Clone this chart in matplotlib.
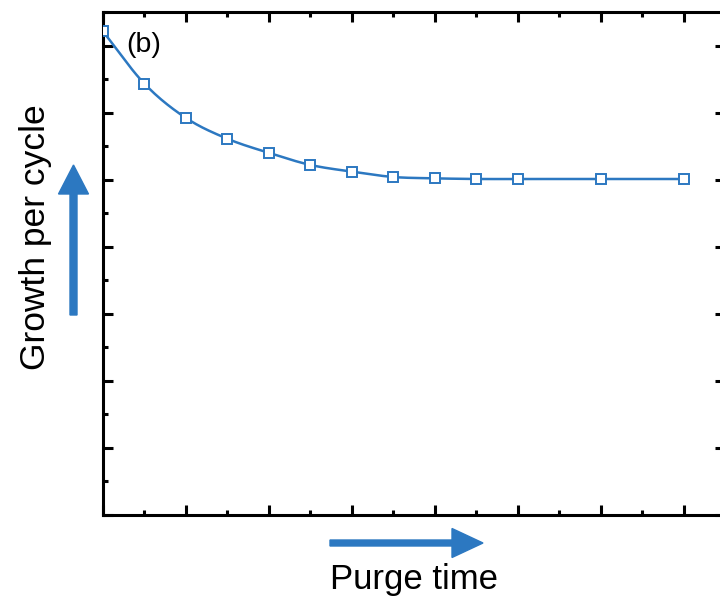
import numpy as np
import matplotlib
matplotlib.use("Agg")
import matplotlib.pyplot as plt
from matplotlib.patches import FancyArrow
from matplotlib.ticker import MultipleLocator

plt.rcParams['font.family'] = ['Liberation Sans', 'DejaVu Sans']

# --- data (arbitrary units) ---
purge_time = [0, 0.5, 1, 1.5, 2, 2.5, 3, 3.5, 4, 4.5, 5, 6, 7]
growth = [7.21, 6.43, 5.92, 5.61, 5.40, 5.22, 5.12, 5.04, 5.02, 5.01, 5.01, 5.01, 5.01]
panel_label = "(b)"
x_label = "Purge time"
y_label = "Growth per cycle"

BLUE = '#2c78c1'


def smooth_line(x, y, n=20):
    """Catmull-Rom curve through the points, only for drawing the line."""
    x = np.asarray(x, float)
    y = np.asarray(y, float)
    px = np.concatenate([[2 * x[0] - x[1]], x, [2 * x[-1] - x[-2]]])
    py = np.concatenate([[2 * y[0] - y[1]], y, [2 * y[-1] - y[-2]]])
    xs, ys = [], []
    t = np.linspace(0, 1, n, endpoint=False)
    for i in range(1, len(px) - 2):
        for arr, out in ((px, xs), (py, ys)):
            p0, p1, p2, p3 = arr[i - 1], arr[i], arr[i + 1], arr[i + 2]
            out.extend(0.5 * (2 * p1 + (-p0 + p2) * t
                              + (2 * p0 - 5 * p1 + 4 * p2 - p3) * t ** 2
                              + (-p0 + 3 * p1 - 3 * p2 + p3) * t ** 3))
    xs.append(x[-1])
    ys.append(y[-1])
    return np.array(xs), np.array(ys)


fig = plt.figure(figsize=(7.2, 6.01), dpi=100)
ax = fig.add_axes([103 / 720, 86 / 601, 622 / 720, 503 / 601])

sx, sy = smooth_line(purge_time, growth)
ax.plot(sx, sy, color=BLUE, lw=1.8, zorder=2)
ax.plot(purge_time, growth, ls='none', marker='s', ms=7.5, mfc='white',
        mec=BLUE, mew=1.4, zorder=3)

ax.set_xlim(0, 7.5)
ax.set_ylim(0, 7.5)
ax.xaxis.set_major_locator(MultipleLocator(1))
ax.xaxis.set_minor_locator(MultipleLocator(0.5))
ax.yaxis.set_major_locator(MultipleLocator(1))
ax.yaxis.set_minor_locator(MultipleLocator(0.5))
ax.tick_params(which='both', direction='in', top=True, right=True,
               labelbottom=False, labelleft=False, width=2.2, color='black')
ax.tick_params(which='major', length=7.5)
ax.tick_params(which='minor', length=3.7)
for sp in ax.spines.values():
    sp.set_linewidth(2.2)

ax.text(0.037, 0.934, panel_label, transform=ax.transAxes, fontsize=20.5,
        ha='left', va='center')

# axis labels as free text, with blue arrows
fig.text(414 / 720, 1 - 580 / 601, x_label, fontsize=25, ha='center', va='center')
fig.text(36 / 720, 1 - 237 / 601, y_label, fontsize=25.5, ha='center',
         va='center', rotation=90)

inch = fig.dpi_scale_trans
fig.patches.append(FancyArrow(3.30, (601 - 543) / 100, 1.53, 0, width=0.06,
                              head_width=0.29, head_length=0.31,
                              length_includes_head=True, color=BLUE,
                              transform=inch, figure=fig))
fig.patches.append(FancyArrow(0.735, (601 - 315) / 100, 0, 1.50, width=0.07,
                              head_width=0.30, head_length=0.29,
                              length_includes_head=True, color=BLUE,
                              transform=inch, figure=fig))

fig.savefig('out.png', dpi=100)
